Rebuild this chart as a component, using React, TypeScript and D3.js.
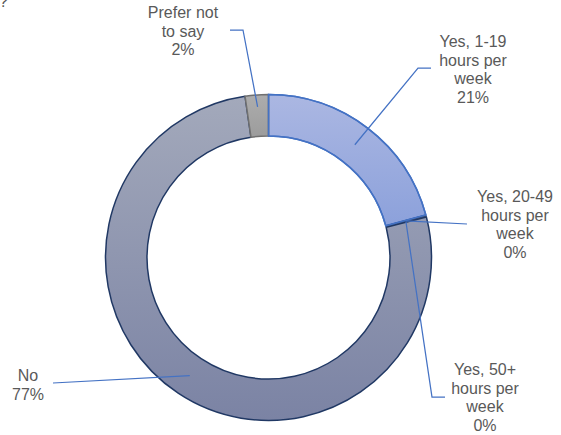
import React, { useEffect, useRef } from 'react';
import * as d3 from 'd3';

const categories = ['Yes, 1-19 hours per week', 'Yes, 20-49 hours per week', 'Yes, 50+ hours per week', 'No', 'Prefer not to say'];
const values = [20.8, 0.1, 0.1, 76.7, 2.3];
const labelLines = [
  ['Yes, 1-19', 'hours per', 'week'],
  ['Yes, 20-49', 'hours per', 'week'],
  ['Yes, 50+', 'hours per', 'week'],
  ['No'],
  ['Prefer not', 'to say'],
];

// slice styling: gradient top / bottom + stroke
const fills = [
  { top: '#abb7e2', bottom: '#8ca1db', stroke: '#4472c4' },
  { top: '#97a0b8', bottom: '#8e96ae', stroke: '#203864' },
  { top: '#97a0b8', bottom: '#8e96ae', stroke: '#203864' },
  { top: '#a3a9bb', bottom: '#7b83a4', stroke: '#203864' },
  { top: '#adadad', bottom: '#9c9c9c', stroke: '#707070' },
];

// label layout: text centre x, first baseline, leader elbow and end, anchor radius
const labelLayout = [
  { x: 473, y: 47, r: 142, path: [[418, 68], [431, 68]] },
  { x: 515, y: 202, r: 142, path: [[467, 224]] },
  { x: 485, y: 375, r: 142, path: [[432, 397], [445, 397]] },
  { x: 28, y: 381, r: 142, path: [[53, 383]] },
  { x: 183, y: 18, r: 151, path: [[243, 30], [230, 30]] },
];

export default function App() {
  const svgRef = useRef<SVGSVGElement>(null);

  useEffect(() => {
    if (!svgRef.current) return;
    const svg = d3.select(svgRef.current);
    svg.selectAll('*').remove();

    const cx = 268.5;
    const cy = 257.5;
    const outerR = 163;
    const innerR = 121.5;
    const lineH = 18.7;

    const defs = svg.append('defs');
    fills.forEach((f, i) => {
      const grad = defs.append('linearGradient')
        .attr('id', `g${i}`)
        .attr('x1', 0).attr('y1', 0).attr('x2', 0).attr('y2', 1);
      grad.append('stop').attr('offset', '0%').attr('stop-color', f.top);
      grad.append('stop').attr('offset', '100%').attr('stop-color', f.bottom);
    });

    const pie = d3.pie<number>().sort(null).value(d => d);
    const arcs = pie(values);
    const arc = d3.arc<d3.PieArcDatum<number>>().innerRadius(innerR).outerRadius(outerR);

    const g = svg.append('g').attr('transform', `translate(${cx},${cy})`);
    g.selectAll('path.slice')
      .data(arcs)
      .join('path')
      .attr('class', 'slice')
      .attr('d', arc)
      .attr('fill', (_, i) => `url(#g${i})`)
      .attr('stroke', (_, i) => fills[i].stroke)
      .attr('stroke-width', (_, i) => (i === 1 || i === 2 ? 0.8 : 1.5))
      .attr('stroke-linejoin', 'round');

    // draw the blue 1-19 outline last so it sits on top
    g.append('path')
      .attr('d', arc(arcs[0]) as string)
      .attr('fill', 'none')
      .attr('stroke', fills[0].stroke)
      .attr('stroke-width', 1.5);

    const leaders = svg.append('g');
    const labels = svg.append('g')
      .attr('font-family', '"Liberation Sans", Arial, sans-serif')
      .attr('font-size', '16px')
      .attr('fill', '#595959')
      .attr('text-anchor', 'middle');

    arcs.forEach((a, i) => {
      const mid = (a.startAngle + a.endAngle) / 2;
      const ar = labelLayout[i].r;
      const ax = cx + ar * Math.sin(mid);
      const ay = cy - ar * Math.cos(mid);
      const pts: [number, number][] = [[ax, ay], ...(labelLayout[i].path as [number, number][])];
      leaders.append('path')
        .attr('d', d3.line()(pts) as string)
        .attr('fill', 'none')
        .attr('stroke', '#4472c4')
        .attr('stroke-width', 1.25);

      const lines = [...labelLines[i], `${Math.round(values[i])}%`];
      const t = labels.append('text').attr('aria-label', categories[i]);
      lines.forEach((ln, j) => {
        t.append('tspan')
          .attr('x', labelLayout[i].x)
          .attr('y', labelLayout[i].y + j * lineH)
          .text(ln);
      });
    });

    // clipped title remnant at top-left
    svg.append('text')
      .attr('x', -1)
      .attr('y', 7)
      .attr('font-family', '"Liberation Sans", Arial, sans-serif')
      .attr('font-size', '16px')
      .attr('fill', '#595959')
      .text('?');
  }, []);

  return (
    <svg
      ref={svgRef}
      width={561}
      height={435}
      style={{ position: 'absolute', left: 0, top: 0, background: '#fff' }}
    />
  );
}
